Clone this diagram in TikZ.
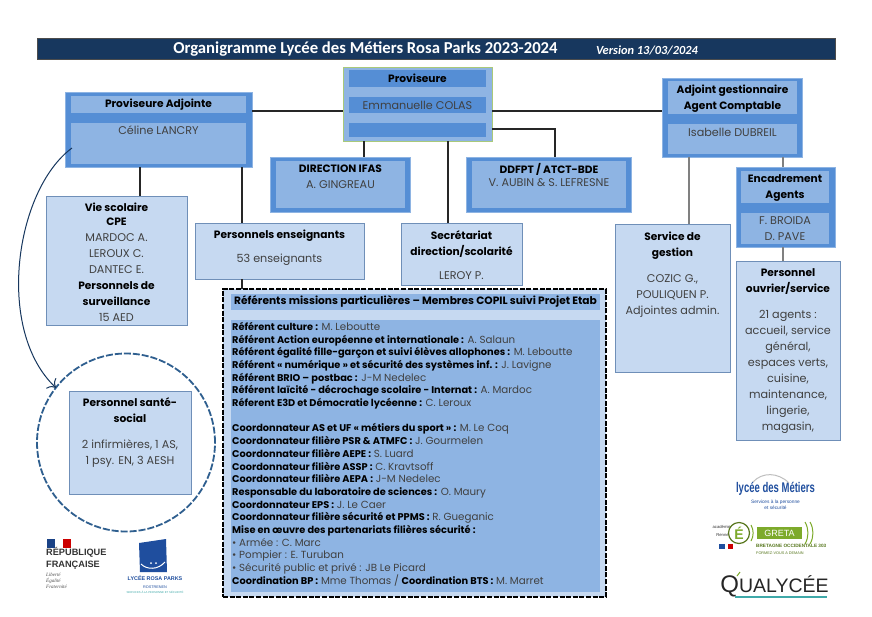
\documentclass[tikz,border=0pt]{standalone}
\usepackage{fontspec}
\usepackage{graphicx}
\setmainfont{Poppins}
\newfontfamily\boldfam[Scale=0.95]{Poppins}
\newfontfamily\titlefont{Carlito}
\newfontfamily\condfont{Liberation Sans}
\newfontfamily\devisefont{Liberation Serif}
\usepackage{tikz}
\usetikzlibrary{arrows.meta}
\definecolor{darkBand}{HTML}{17375E}
\definecolor{midBlue}{HTML}{558ED5}
\definecolor{softBlue}{HTML}{8EB4E3}
\definecolor{paleBlue}{HTML}{C6D9F1}
\definecolor{paleLine}{HTML}{6F8FB8}
\definecolor{circleLine}{HTML}{2F5F8F}
\definecolor{nameGrey}{HTML}{404040}
\definecolor{greenLine}{HTML}{A9C97A}
\definecolor{linkGrey}{HTML}{808080}
\definecolor{gretaGreen}{HTML}{7DAA2B}
\definecolor{logoBlue}{HTML}{1F4E9E}
\definecolor{qualTeal}{HTML}{3FA9A9}
\tikzset{
box/.style = {rectangle, fill=midBlue, draw=softBlue, line width=0.6pt, inner sep=0pt, outer sep=0pt, minimum width = #1},
box/.default = 100pt,
band/.style = {rectangle, fill=softBlue, inner sep=0pt, outer sep=0pt, minimum width = #1},
band/.default = 100pt,
pale/.style = {rectangle, fill=paleBlue, draw=paleLine, line width=0.7pt, inner sep=0pt, outer sep=0pt, minimum width = #1},
pale/.default = 100pt,
txt/.style = {align=center, inner sep=0pt, text=nameGrey, font=\fontsize{11.2}{16}\selectfont},
head/.style = {txt, text=black, font=\fontsize{11.2}{16}\selectfont\boldfam\bfseries},
link/.style = {line width=1.2pt, draw=black!85},
linkg/.style = {line width=1.2pt, draw=linkGrey},
}
\newcommand{\bk}[1]{{\boldfam\bfseries\color{black}#1}}
\begin{document}
\begin{tikzpicture}[x=1pt,y=-1pt]
  \useasboundingbox (0,0) rectangle (872,616);
  \fill[white] (0,0) rectangle (872,616);

  % Lines
    \coordinate (topJoinA) at (555,129);
    \coordinate (curveStart) at (72,148);

  % Title
    \node[rectangle, fill=darkBand, draw=black!70, line width=0.5pt, minimum width=798pt, minimum height=21pt, inner sep=0pt] (titleBar) at (436,48.5) {};
    \node[inner sep=0pt, text=white, font=\titlefont\fontsize{16.7}{18}\selectfont\bfseries] (titleText) at (365.5,49) {Organigramme Lycée des Métiers Rosa Parks 2023-2024};
    \node[inner sep=0pt, text=white, font=\titlefont\fontsize{12.4}{14}\selectfont\bfseries\itshape] (versionText) at (647,50) {Version 13/03/2024};

  % Boxes
    \node[box=149pt, minimum height=74pt, fill=softBlue, draw=greenLine, line width=1pt] (provBox) at (417.5,104) {};
    \node[band=137pt, fill=midBlue, minimum height=17pt] (provHead) at (417.5,78.5) {};
    \node[band=137pt, fill=midBlue, minimum height=16pt] (provName) at (417.5,105) {};
    \node[band=137pt, fill=midBlue, minimum height=14pt] (provFoot) at (417.5,130) {};
    \node[head] (provHeadTxt) at (417.5,78) {Proviseure};
    \node[txt] (provNameTxt) at (417.5,105) {Emmanuelle COLAS};

    \node[box=187pt, minimum height=75pt] (adjBox) at (158.5,129.5) {};
    \node[band=175pt, minimum height=17pt] (adjHead) at (158.5,104.5) {};
    \node[band=175pt, minimum height=41pt] (adjName) at (158.5,143.5) {};
    \node[head] (adjHeadTxt) at (158.5,104.5) {Proviseure Adjointe};
    \node[txt] (adjNameTxt) at (158.5,130) {Céline LANCRY};

    \node[box=140pt, minimum height=55pt] (ifasBox) at (340,184.5) {};
    \node[band=129pt, minimum height=47pt] (ifasBand) at (340.5,184.5) {};
    \node[head] (ifasHead) at (340.5,169) {DIRECTION IFAS};
    \node[txt] (ifasName) at (340.5,185) {A. GINGREAU};

    \node[box=165pt, minimum height=55pt] (ddfptBox) at (548.5,184.5) {};
    \node[band=154pt, minimum height=47pt] (ddfptBand) at (549,184.5) {};
    \node[head] (ddfptHead) at (549,169) {DDFPT / ATCT-BDE};
    \node[txt] (ddfptName) at (549,183) {V. AUBIN \& S. LEFRESNE};

    \node[box=140pt, minimum height=79pt] (gestBox) at (732,117.5) {};
    \node[band=129pt, minimum height=33pt] (gestHead) at (732.5,97.5) {};
    \node[band=129pt, minimum height=30pt] (gestName) at (732.5,139) {};
    \node[head] (gestHeadTxt) at (732.5,98.5) {Adjoint gestionnaire\\Agent Comptable};
    \node[txt] (gestNameTxt) at (732.5,132) {Isabelle DUBREIL};

    \node[box=99pt, minimum height=80pt] (encBox) at (785.5,207) {};
    \node[band=88pt, minimum height=32pt] (encHead) at (785,187) {};
    \node[band=88pt, minimum height=31pt] (encName) at (785,228.5) {};
    \node[head] (encHeadTxt) at (785,188) {Encadrement\\Agents};
    \node[txt] (encNameTxt) at (785,228.5) {F. BROIDA\\D. PAVE};

    \node[pale=141pt, minimum height=129pt] (vieBox) at (116.5,260.5) {};
    \node[txt] (vieTxt) at (116.5,262) {\bk{Vie scolaire}\\[-2pt]\bk{CPE}\\MARDOC A.\\LEROUX C.\\DANTEC E.\\\bk{Personnels de}\\\bk{surveillance}\\15 AED};

    \node[pale=169pt, minimum height=56pt] (ensBox) at (279.5,251) {};
    \node[txt] (ensTxt) at (279.5,248) {\bk{Personnels enseignants}\\[8pt]53 enseignants};

    \node[pale=121pt, minimum height=62pt] (secBox) at (461.5,254) {};
    \node[txt] (secTxt) at (461.5,255) {\bk{Secrétariat}\\\bk{direction/scolarité}\\[8pt]LEROY P.};

    \node[pale=115pt, minimum height=148pt] (servBox) at (672.5,298) {};
    \node[txt, anchor=north] (servTxt) at (672.5,232) {\bk{Service de}\\\bk{gestion}\\[10pt]COZIC G.,\\POULIQUEN P.\\Adjointes admin.};

    \node[pale=104pt, minimum height=179pt] (ouvBox) at (788,350.5) {};
    \node[txt, anchor=north] (ouvTxt) at (788,268) {\bk{Personnel}\\\bk{ouvrier/service}\\[10pt]21 agents :\\accueil, service\\général,\\espaces verts,\\cuisine,\\maintenance,\\lingerie,\\magasin,};

  % Sante
    \node[circle, draw=circleLine, dash pattern=on 7pt off 2pt, line width=1.8pt, minimum size=178pt, inner sep=0pt, outer sep=0pt] (santeCircle) at (126,442.5) {};
    \node[pale=122pt, minimum height=103pt] (santeBox) at (130,442.5) {};
    \node[txt, anchor=north] (santeTxt) at (130,397) {\bk{Personnel santé-}\\\bk{social}\\[10pt]2 infirmières, 1 AS,\\1 psy. EN, 3 AESH};

  % Referents
    \node[rectangle, fill=paleBlue, draw=black, dash pattern=on 5pt off 1.6pt, line width=2.6pt, minimum width=383pt, minimum height=308pt, inner sep=0pt, outer sep=0pt] (refBox) at (414.5,443) {};
    \node[band=369pt, minimum height=16pt] (refHead) at (415.5,302) {};
    \node[band=369pt, minimum height=272pt] (refBody) at (415.5,456) {};
    \node[head] (refHeadTxt) at (415.5,301.5) {Référents missions particulières – Membres COPIL suivi Projet Etab};
    \node[txt, align=left, anchor=north west, font=\fontsize{10.3}{12.7}\selectfont] (refTxt) at (232,322) {%
      \bk{Référent culture :} M. Leboutte\\
      \bk{Référent Action européenne et internationale :} A. Salaun\\
      \bk{Référent égalité fille-garçon et suivi élèves allophones :} M. Leboutte\\
      \bk{Référent « numérique » et sécurité des systèmes inf. :} J. Lavigne\\
      \bk{Référent BRIO – postbac :} J-M Nedelec\\
      \bk{Référent laïcité - décrochage scolaire - Internat :} A. Mardoc\\
      \bk{Réferent E3D et Démocratie lycéenne :} C. Leroux\\
      \mbox{}\\
      \bk{Coordonnateur AS et UF « métiers du sport » :} M. Le Coq\\
      \bk{Coordonnateur filière PSR \& ATMFC :} J. Gourmelen\\
      \bk{Coordonnateur filière AEPE :} S. Luard\\
      \bk{Coordonnateur filière ASSP :} C. Kravtsoff\\
      \bk{Coordonnateur filière AEPA :} J-M Nedelec\\
      \bk{Responsable du laboratoire de sciences :} O. Maury\\
      \bk{Coordonnateur EPS :} J. Le Caer\\
      \bk{Coordonnateur filière sécurité et PPMS :} R. Gueganic\\
      \bk{Mise en œuvre des partenariats filières sécurité :}\\
      • Armée : C. Marc\\
      • Pompier : E. Turuban\\
      • Sécurité public et privé : JB Le Picard\\
      \bk{Coordination BP :} Mme Thomas / \bk{Coordination BTS :} M. Marret};

  % Lines
    \draw[link] (adjBox.east |- 0,111) -- (provBox.west |- 0,111);
    \draw[link] (provBox.east |- 0,111) -- (gestBox.west |- 0,111);
    \draw[link] (provBox.east |- topJoinA) -- (topJoinA) -- (ddfptBox.north -| topJoinA);
    \draw[link] (provBox.south -| 364,0) -- (ifasBox.north -| 364,0);
    \draw[link] (provBox.south -| 448,0) -- (secBox.north -| 448,0);
    \draw[link] (adjBox.south -| 140,0) -- (vieBox.north -| 140,0);
    \draw[link] (adjBox.south -| 242,0) -- (ensBox.north -| 242,0);
    \draw[link] (ensBox.south -| 242,0) -- (refBox.north -| 242,0);
    \draw[linkg] (gestBox.south -| 689,0) -- (servBox.north -| 689,0);
    \draw[linkg] (gestBox.south -| 783,0) -- (encBox.north -| 783,0);
    \draw[linkg] (encBox.south -| 783,0) -- (ouvBox.north -| 783,0);
    \draw[-{>[scale=1.8]}, draw=darkBand, line width=1pt] (curveStart) .. controls (15,190) and (-5,330) .. (santeCircle.142);

  % Logos
    \fill[logoBlue!85!black] (47,539) rectangle (55,548);
    \fill[red!80!black] (63,539) rectangle (71,548);
    \node[inner sep=0pt, anchor=west, align=left, font=\condfont\fontsize{9.2}{11.5}\selectfont\bfseries, text=black!80] (repTxt) at (46,558.5) {RÉPUBLIQUE\\FRANÇAISE};
    \node[inner sep=0pt, anchor=west, align=left, font=\devisefont\fontsize{5}{6}\selectfont\itshape, text=black!70] (devTxt) at (46,581) {Liberté\\Égalité\\Fraternité};

    \fill[logoBlue] (139,543) -- (166,539) -- (167,572) -- (140,572) -- cycle;
    \draw[white, line width=1pt] (141,564) .. controls (147,570) and (158,570) .. (165,562);
    \fill[white] (151,563) circle (1pt) (156,563) circle (1pt);
    \node[inner sep=0pt, font=\condfont\fontsize{5.4}{6}\selectfont\bfseries, text=logoBlue] (rosaTxt) at (155,578) {LYCÉE ROSA PARKS};
    \node[inner sep=0pt, font=\condfont\fontsize{3.8}{5}\selectfont, text=logoBlue] (rostTxt) at (155,587) {ROSTRENEN};
    \node[inner sep=0pt, font=\condfont\fontsize{2.8}{4}\selectfont, text=qualTeal] (rosaSub) at (155,592) {SERVICES À LA PERSONNE ET SÉCURITÉ};

    \node[inner sep=0pt, font=\condfont\fontsize{14}{15}\selectfont\bfseries, text=logoBlue] (ldmTxt) at (775.5,489) {\scalebox{0.68}[1]{lycée des Métiers}};
    \node[inner sep=0pt, align=center, font=\condfont\fontsize{4.8}{6}\selectfont, text=logoBlue] (ldmSub) at (775.5,505) {Services à la personne\\et sécurité};
    \draw[black!25, line width=1pt] (753,482) .. controls (762,472) and (778,472) .. (789,483);

    \node[inner sep=0pt, anchor=east, align=right, font=\condfont\fontsize{4.2}{8}\selectfont, text=black!80] (gretaAca) at (731,531) {académie\\Rennes};
    \node[circle, fill=white, draw=gretaGreen!70!black, line width=1.2pt, minimum size=21pt, inner sep=0pt, text=gretaGreen, font=\condfont\fontsize{14}{14}\selectfont\bfseries] (gretaE) at (739,533) {É};
    \node[rectangle, fill=gretaGreen, minimum width=45pt, minimum height=12pt, inner sep=0pt, text=white, font=\condfont\fontsize{9}{9}\selectfont] (gretaBar) at (779.5,533) {GRETA};
    \draw[gretaGreen, line width=1pt] (751,525) arc (-30:30:16) (805,522) arc (-30:30:22) (810,522) arc (-30:30:22);
    \node[inner sep=0pt, anchor=west, font=\condfont\fontsize{4.7}{5}\selectfont\bfseries, text=gretaGreen!70!black] (gretaSub) at (756,546) {BRETAGNE OCCIDENTALE 303};
    \node[inner sep=0pt, anchor=west, font=\condfont\fontsize{3.8}{5}\selectfont, text=gretaGreen!70!black] (gretaFoot) at (756,553) {FORMEZ-VOUS A DEMAIN};
    \fill[logoBlue] (719,544) rectangle (725,549);
    \fill[red!80!black] (728,544) rectangle (733,549);

    \node[inner sep=0pt, font=\condfont\fontsize{24}{24}\selectfont, text=black!85] (qualTxt) at (774.5,586) {Q\fontsize{19.5}{24}\selectfont UALYCÉE};
    \draw[qualTeal, line width=1.2pt] (735,597) -- (827,597);
    \draw[gretaGreen, line width=1pt] (737,576) -- (740,572);
  \end{tikzpicture}
\end{document}
